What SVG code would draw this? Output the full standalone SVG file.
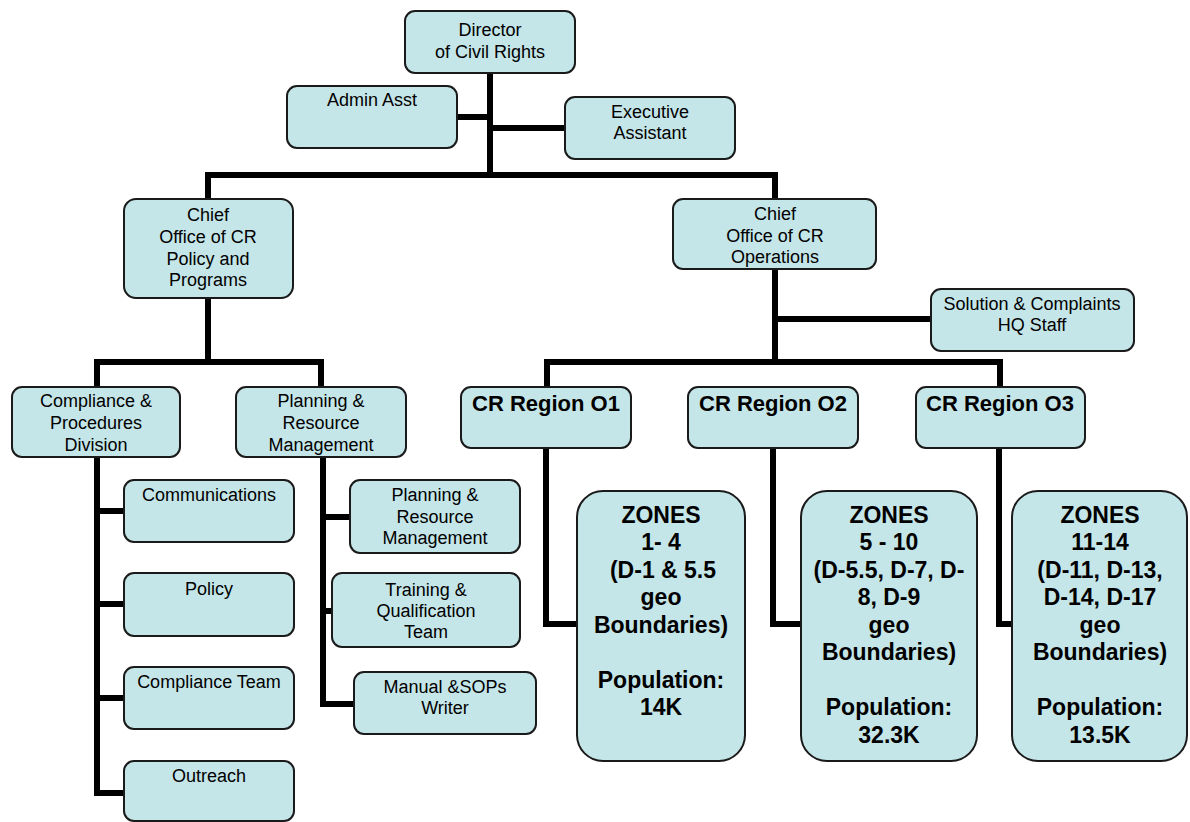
<svg xmlns="http://www.w3.org/2000/svg" width="1190" height="822" viewBox="0 0 1190 822">
<style>
.b{fill:#C5E6E8;stroke:#1a1a1a;stroke-width:2}
.t{font-family:"Liberation Sans",Arial,sans-serif;font-size:18px;fill:#000;text-anchor:middle}
.r{font-family:"Liberation Sans",Arial,sans-serif;font-size:22px;font-weight:bold;fill:#000;text-anchor:middle}
.z{font-family:"Liberation Sans",Arial,sans-serif;font-size:23px;font-weight:bold;fill:#000;text-anchor:middle}
.c{fill:none;stroke:#000;stroke-width:6;stroke-linecap:square;stroke-linejoin:miter}
</style>
<rect width="1190" height="822" fill="#fff"/>
<g id="connectors">
<path class="c" d="M490 73V175M457 117H490M490 128H565M208 175H775M208 175V199M775 175V199"/>
<path class="c" d="M208 298V362M97 362H321M97 362V387M321 362V387"/>
<path class="c" d="M775 269V362M775 319H931M547 362H1000M547 362V387M1000 362V387"/>
<path class="c" d="M97 457V793H124M97 511H124M97 604H124M97 698H124"/>
<path class="c" d="M323 457V704H354M323 517H350M323 611H332"/>
<path class="c" d="M546 448V624H577M773 448V624H801M999 448V624H1012"/>
</g>
<g id="director"><rect class="b" x="405" y="11" width="170" height="62" rx="10"/><text class="t" x="490" y="36">Director</text><text class="t" x="490" y="58">of Civil Rights</text></g>
<g id="admin"><rect class="b" x="287" y="86" width="170" height="62" rx="10"/><text class="t" x="372" y="106">Admin Asst</text></g>
<g id="exec"><rect class="b" x="565" y="97" width="170" height="62" rx="10"/><text class="t" x="650" y="118">Executive</text><text class="t" x="650" y="139">Assistant</text></g>
<g id="chief-policy"><rect class="b" x="124" y="199" width="169" height="99" rx="12"/><text class="t" x="208" y="221">Chief</text><text class="t" x="208" y="243">Office of CR</text><text class="t" x="208" y="265">Policy and</text><text class="t" x="208" y="286">Programs</text></g>
<g id="chief-ops"><rect class="b" x="673" y="199" width="203" height="70" rx="10"/><text class="t" x="775" y="220">Chief</text><text class="t" x="775" y="242">Office of CR</text><text class="t" x="775" y="263">Operations</text></g>
<g id="solution"><rect class="b" x="931" y="289" width="203" height="62" rx="10"/><text class="t" x="1032" y="310">Solution &amp; Complaints</text><text class="t" x="1032" y="331">HQ Staff</text></g>
<g id="compliance-div"><rect class="b" x="12" y="387" width="168" height="70" rx="10"/><text class="t" x="96" y="407">Compliance &amp;</text><text class="t" x="96" y="429">Procedures</text><text class="t" x="96" y="451">Division</text></g>
<g id="planning-div"><rect class="b" x="236" y="387" width="170" height="70" rx="10"/><text class="t" x="321" y="407">Planning &amp;</text><text class="t" x="321" y="429">Resource</text><text class="t" x="321" y="451">Management</text></g>
<g id="region1"><rect class="b" x="461" y="387" width="170" height="61" rx="10"/><text class="r" x="546" y="411">CR Region O1</text></g>
<g id="region2"><rect class="b" x="688" y="387" width="170" height="61" rx="10"/><text class="r" x="773" y="411">CR Region O2</text></g>
<g id="region3"><rect class="b" x="916" y="387" width="169" height="61" rx="10"/><text class="r" x="1000" y="411">CR Region O3</text></g>
<g id="communications"><rect class="b" x="124" y="480" width="170" height="62" rx="10"/><text class="t" x="209" y="501">Communications</text></g>
<g id="policy"><rect class="b" x="124" y="573" width="170" height="63" rx="10"/><text class="t" x="209" y="595">Policy</text></g>
<g id="compliance-team"><rect class="b" x="124" y="667" width="170" height="62" rx="10"/><text class="t" x="209" y="688">Compliance Team</text></g>
<g id="outreach"><rect class="b" x="124" y="761" width="170" height="60" rx="10"/><text class="t" x="209" y="782">Outreach</text></g>
<g id="planning-sub"><rect class="b" x="350" y="480" width="170" height="73" rx="10"/><text class="t" x="435" y="501">Planning &amp;</text><text class="t" x="435" y="523">Resource</text><text class="t" x="435" y="544">Management</text></g>
<g id="training"><rect class="b" x="332" y="573" width="188" height="74" rx="10"/><text class="t" x="426" y="596">Training &amp;</text><text class="t" x="426" y="617">Qualification</text><text class="t" x="426" y="638">Team</text></g>
<g id="manual"><rect class="b" x="354" y="672" width="182" height="62" rx="10"/><text class="t" x="445" y="693">Manual &amp;SOPs</text><text class="t" x="445" y="714">Writer</text></g>
<g id="zones1"><rect class="b" x="577" y="491" width="168" height="270" rx="26"/>
<text class="z" x="661" y="523">ZONES</text><text class="z" x="661" y="550">1- 4</text><text class="z" x="663" y="578">(D-1 &amp; 5.5</text><text class="z" x="661" y="605">geo</text><text class="z" x="661" y="633">Boundaries)</text><text class="z" x="661" y="688">Population:</text><text class="z" x="661" y="715">14K</text></g>
<g id="zones2"><rect class="b" x="801" y="491" width="176" height="270" rx="26"/>
<text class="z" x="889" y="523">ZONES</text><text class="z" x="889" y="550">5 - 10</text><text class="z" x="889" y="578">(D-5.5, D-7, D-</text><text class="z" x="889" y="605">8, D-9</text><text class="z" x="889" y="633">geo</text><text class="z" x="889" y="660">Boundaries)</text><text class="z" x="889" y="715">Population:</text><text class="z" x="889" y="743">32.3K</text></g>
<g id="zones3"><rect class="b" x="1012" y="491" width="175" height="270" rx="26"/>
<text class="z" x="1100" y="523">ZONES</text><text class="z" x="1100" y="550">11-14</text><text class="z" x="1100" y="578">(D-11, D-13,</text><text class="z" x="1100" y="605">D-14, D-17</text><text class="z" x="1100" y="633">geo</text><text class="z" x="1100" y="660">Boundaries)</text><text class="z" x="1100" y="715">Population:</text><text class="z" x="1100" y="743">13.5K</text></g>
</svg>
